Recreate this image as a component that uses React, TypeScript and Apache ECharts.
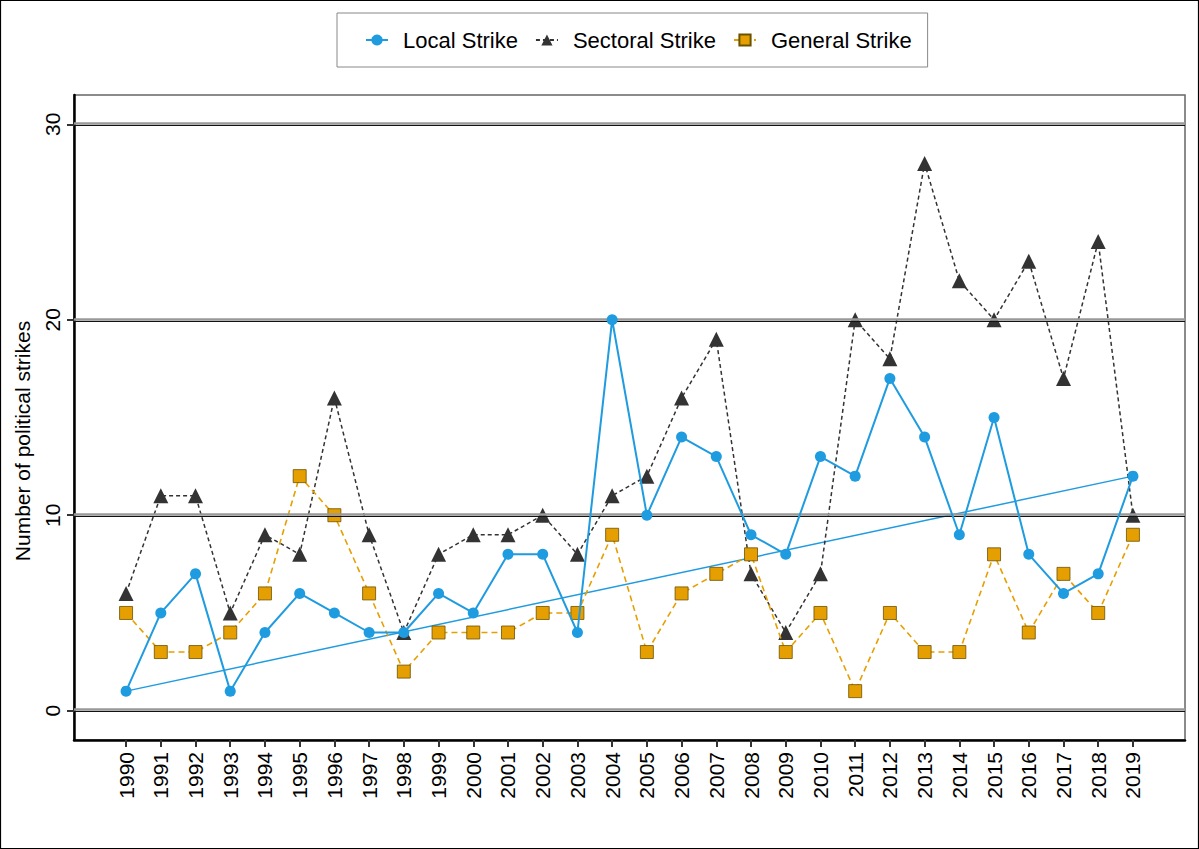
import React, { useEffect, useRef } from "react";
import * as echarts from "echarts";

const years = [1990,1991,1992,1993,1994,1995,1996,1997,1998,1999,2000,2001,2002,2003,2004,2005,2006,2007,2008,2009,2010,2011,2012,2013,2014,2015,2016,2017,2018,2019];
const localStrike = [1,5,7,1,4,6,5,4,4,6,5,8,8,4,20,10,14,13,9,8,13,12,17,14,9,15,8,6,7,12];
const sectoralStrike = [6,11,11,5,9,8,16,9,4,8,9,9,10,8,11,12,16,19,7,4,7,20,18,28,22,20,23,17,24,10];
const generalStrike = [5,3,3,4,6,12,10,6,2,4,4,4,5,5,9,3,6,7,8,3,5,1,5,3,3,8,4,7,5,9];
const yTicks = [0, 10, 20, 30];

const FONT = "Liberation Sans, Arial, Helvetica, sans-serif";
const X_MIN = 1988.5;
const X_MAX = 2020.5;

export default function App() {
  const ref = useRef<HTMLDivElement>(null);
  useEffect(() => {
    document.body.style.margin = "0";
    if (!ref.current) return;
    const chart = echarts.init(ref.current, undefined, { renderer: "svg" });
    const pair = (arr: number[]) => years.map((y, i) => [y, arr[i]]);
    const trend = [
      [years[0], localStrike[0]],
      [years[years.length - 1], localStrike[localStrike.length - 1]],
    ];
    const gridGray = yTicks.map((v) => ({ yAxis: v + 0.05 }));
    const gridBlack = yTicks.map((v) => ({ yAxis: v - 0.045 }));
    chart.setOption({
      animation: false,
      textStyle: { fontFamily: FONT },
      grid: {
        left: 74, right: 14, top: 95, bottom: 109,
        show: true, borderColor: "#666", borderWidth: 1.5,
      },
      legend: {
        top: 13, left: 337,
        padding: [16, 16, 16, 28],
        borderColor: "#888", borderWidth: 1,
        itemWidth: 22, itemHeight: 14, itemGap: 17,
        textStyle: { fontSize: 22, color: "#000", fontFamily: FONT, padding: [0, 0, 0, 10] },
        data: ["Local Strike", "Sectoral Strike", "General Strike"],
      },
      xAxis: {
        type: "value", min: X_MIN, max: X_MAX,
        axisLine: { show: true, onZero: false, lineStyle: { color: "#000", width: 2.5 } },
        axisTick: { show: true, customValues: years, length: 7, lineStyle: { color: "#333", width: 2 } },
        axisLabel: {
          customValues: years, rotate: 90, fontSize: 21, color: "#000", margin: 12,
          fontFamily: FONT, formatter: (v: number) => String(v),
        },
        splitLine: { show: false },
      },
      yAxis: {
        type: "value", min: -1.5, max: 31.5,
        axisLine: { show: true, onZero: false, lineStyle: { color: "#000", width: 2.5 } },
        axisTick: { show: true, customValues: yTicks, length: 7, lineStyle: { color: "#333", width: 2 } },
        axisLabel: { show: false },
        splitLine: { show: false },
      },
      series: [
        {
          type: "line", name: "grid", data: [], silent: true, z: 1,
          markLine: {
            silent: true, symbol: "none", label: { show: false },
            lineStyle: { color: "#999", width: 2.5, type: "solid" },
            data: gridGray,
          },
        },
        {
          type: "line", name: "grid2", data: [], silent: true, z: 1,
          markLine: {
            silent: true, symbol: "none", label: { show: false },
            lineStyle: { color: "#111", width: 1.2, type: "solid" },
            data: gridBlack,
          },
        },
        {
          type: "line", name: "trend", data: trend, showSymbol: false, z: 2,
          lineStyle: { color: "#1f9be0", width: 1.5 }, itemStyle: { color: "#1f9be0" },
        },
        {
          type: "line", name: "Sectoral Strike", data: pair(sectoralStrike), z: 3,
          symbol: "triangle", symbolSize: 15,
          lineStyle: { color: "#333", width: 1.5, type: [4, 3] },
          itemStyle: { color: "#333" },
        },
        {
          type: "line", name: "General Strike", data: pair(generalStrike), z: 4,
          symbol: "rect", symbolSize: 13,
          lineStyle: { color: "#E69F00", width: 1.6, type: [6, 4] },
          itemStyle: { color: "#E69F00", borderColor: "#6b5200", borderWidth: 0.8 },
        },
        {
          type: "line", name: "Local Strike", data: pair(localStrike), z: 5,
          symbol: "circle", symbolSize: 11,
          lineStyle: { color: "#1f9be0", width: 2 },
          itemStyle: { color: "#1f9be0" },
        },
      ],
    });

    // y tick labels: positions from the axis scale, each in a rotated group
    const tickLabels = yTicks.map((v) => {
      const p = chart.convertToPixel({ gridIndex: 0 }, [X_MIN, v]) as number[];
      return {
        type: "group", x: p[0] - 22, y: p[1], rotation: Math.PI / 2, silent: true,
        children: [
          {
            type: "text", x: 0, y: 0, silent: true,
            style: {
              text: String(v), fontSize: 21, fill: "#000", fontFamily: FONT,
              align: "center", verticalAlign: "middle",
            },
          },
        ],
      };
    });
    chart.setOption({
      graphic: [
        {
          type: "text", x: 22, y: 441, rotation: Math.PI / 2, silent: true,
          style: {
            text: "Number of political strikes", fontSize: 21, fill: "#000",
            fontFamily: FONT, align: "center", verticalAlign: "middle",
          },
        },
        {
          type: "rect", shape: { x: 0.5, y: 0.5, width: 1198, height: 848 },
          style: { fill: "none", stroke: "#000", lineWidth: 1.2 }, silent: true,
        },
        ...tickLabels,
      ],
    });
    return () => chart.dispose();
  }, []);
  return <div ref={ref} style={{ width: 1199, height: 849 }} />;
}
